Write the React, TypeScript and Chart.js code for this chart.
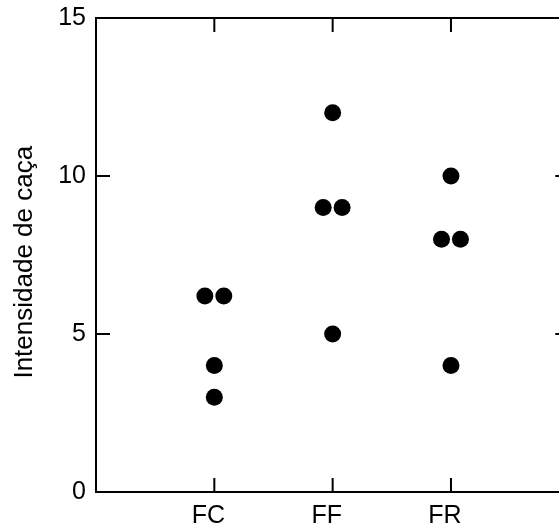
import React, { useEffect, useRef } from "react";
import { Chart, registerables } from "chart.js";

Chart.register(...registerables);

const categories = ["FC", "FF", "FR"];
const fcValues = [6.2, 6.2, 4, 3];
const ffValues = [12, 9, 9, 5];
const frValues = [10, 8, 8, 4];
const fcJitter = [-0.08, 0.08, 0, 0];
const ffJitter = [0, -0.08, 0.08, 0];
const frJitter = [0, -0.08, 0.08, 0];
const yTicks = [0, 5, 10, 15];
const yTitle = "Intensidade de caça";

const FONT = "'Liberation Sans', Arial, sans-serif";

const framePlugin = {
  id: "frame",
  beforeDatasetsDraw(chart: any) {
    const { ctx, chartArea: a, scales } = chart;
    const xs = scales.x;
    const ys = scales.y;
    const L = 14;
    ctx.save();
    ctx.strokeStyle = "#000";
    ctx.lineWidth = 2;
    ctx.beginPath();
    ctx.rect(a.left, a.top, a.right - a.left, a.bottom - a.top);
    for (const v of yTicks) {
      const py = ys.getPixelForValue(v);
      ctx.moveTo(a.left, py);
      ctx.lineTo(a.left + L, py);
      ctx.moveTo(a.right, py);
      ctx.lineTo(a.right - L, py);
    }
    categories.forEach((_, i) => {
      const px = xs.getPixelForValue(i + 1);
      ctx.moveTo(px, a.bottom);
      ctx.lineTo(px, a.bottom - L);
      ctx.moveTo(px, a.top);
      ctx.lineTo(px, a.top + L);
    });
    ctx.stroke();
    ctx.restore();
  },
};

export default function App() {
  const ref = useRef<HTMLCanvasElement | null>(null);

  useEffect(() => {
    if (!ref.current) return;
    const groups = [
      { values: fcValues, jitter: fcJitter },
      { values: ffValues, jitter: ffJitter },
      { values: frValues, jitter: frJitter },
    ];
    const points: { x: number; y: number }[] = [];
    groups.forEach((g, i) => {
      g.values.forEach((v, j) => points.push({ x: i + 1 + g.jitter[j], y: v }));
    });

    const chart = new Chart(ref.current, {
      type: "scatter",
      data: {
        datasets: [
          {
            data: points,
            backgroundColor: "#000",
            borderColor: "#000",
            pointRadius: 8.5,
            pointBorderWidth: 0,
          },
        ],
      },
      options: {
        responsive: false,
        animation: false,
        layout: { padding: { left: 0, top: 18, right: 10.7, bottom: 0 } },
        plugins: { legend: { display: false }, tooltip: { enabled: false } },
        scales: {
          x: {
            type: "linear",
            min: 0,
            max: 4,
            grid: { display: false, drawTicks: false },
            border: { display: false },
            afterBuildTicks: (scale: any) => {
              scale.ticks = categories.map((_, i) => ({ value: i + 1 }));
            },
            afterFit: (scale: any) => {
              scale.height = 38;
            },
            ticks: {
              autoSkip: false,
              maxRotation: 0,
              padding: 9,
              labelOffset: -6,
              color: "#000",
              font: { family: FONT, size: 25 },
              callback: (v: any) => categories[Math.round(Number(v)) - 1] ?? "",
            },
          },
          y: {
            min: 0,
            max: 15,
            grid: { display: false, drawTicks: false },
            border: { display: false },
            afterBuildTicks: (scale: any) => {
              scale.ticks = yTicks.map((v) => ({ value: v }));
            },
            afterFit: (scale: any) => {
              scale.width = 96;
            },
            ticks: {
              padding: 10,
              color: "#000",
              font: { family: FONT, size: 25, lineHeight: 0.5 },
            },
            title: {
              display: true,
              text: yTitle + "\u00a0\u00a0",
              color: "#000",
              padding: { top: 9, bottom: 0 },
              font: { family: FONT, size: 26 },
            },
          },
        },
      },
      plugins: [framePlugin],
    });
    return () => chart.destroy();
  }, []);

  return (
    <div
      style={{
        position: "fixed",
        left: 0,
        top: 0,
        width: 559,
        height: 530,
        overflow: "hidden",
        background: "#fff",
      }}
    >
      <canvas ref={ref} width={580} height={530} style={{ display: "block" }} />
    </div>
  );
}
